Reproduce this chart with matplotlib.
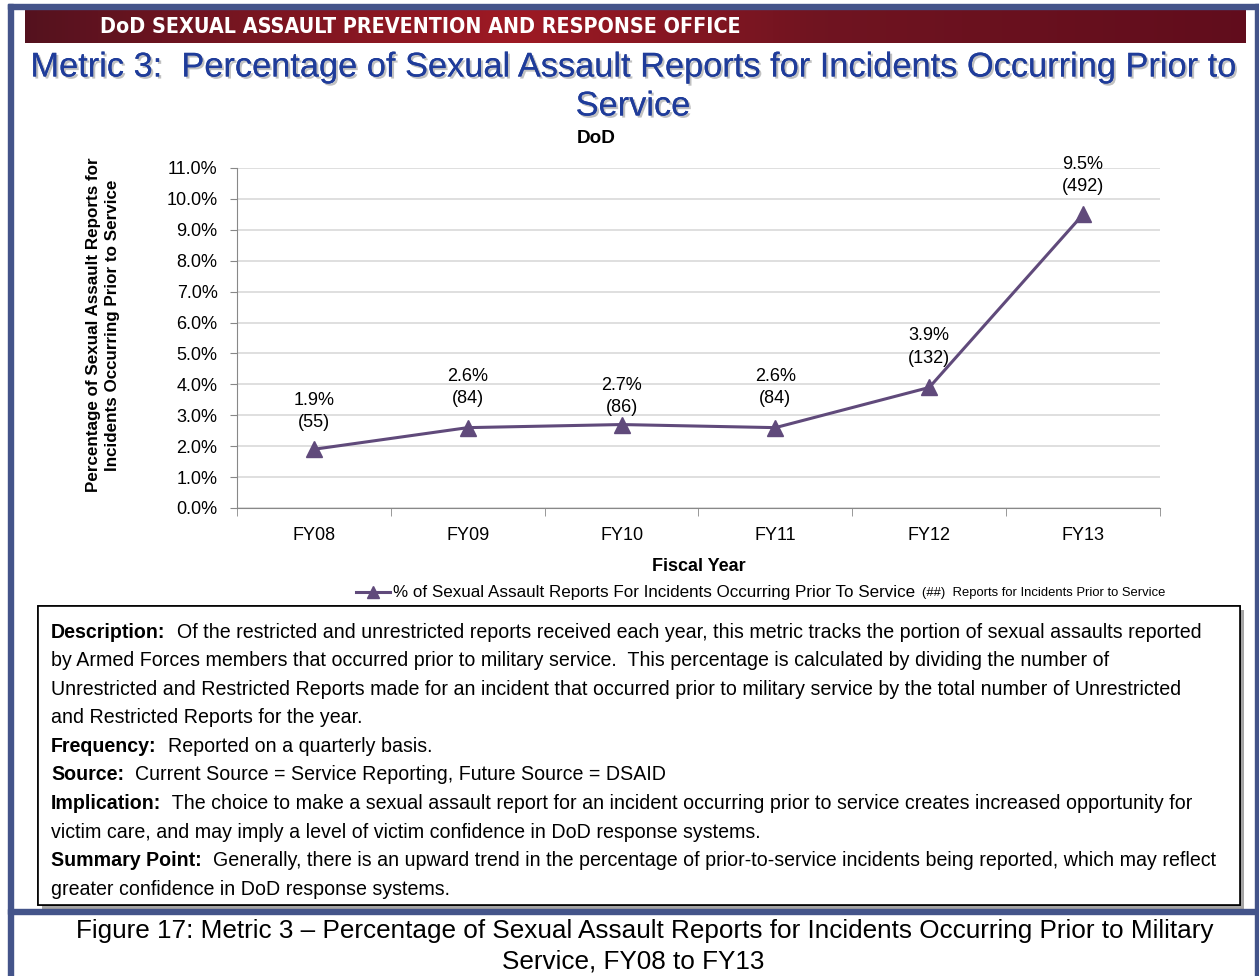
import matplotlib.pyplot as plt
import matplotlib.patheffects as pe
from matplotlib.patches import Rectangle
import numpy as np

W, H = 1259, 976

years = ['FY08', 'FY09', 'FY10', 'FY11', 'FY12', 'FY13']
pct = [1.9, 2.6, 2.7, 2.6, 3.9, 9.5]
counts = [55, 84, 86, 84, 132, 492]
label_dy = [13, 15, 6, 15, 15, 14]   # label lift above marker, points

desc_lines = [
    ('Description:', '  Of the restricted and unrestricted reports received each year, this metric tracks the portion of sexual assaults reported'),
    ('', 'by Armed Forces members that occurred prior to military service.  This percentage is calculated by dividing the number of'),
    ('', 'Unrestricted and Restricted Reports made for an incident that occurred prior to military service by the total number of Unrestricted'),
    ('', 'and Restricted Reports for the year.'),
    ('Frequency:', '  Reported on a quarterly basis.'),
    ('Source:', '  Current Source = Service Reporting, Future Source = DSAID'),
    ('Implication:', '  The choice to make a sexual assault report for an incident occurring prior to service creates increased opportunity for'),
    ('', 'victim care, and may imply a level of victim confidence in DoD response systems.'),
    ('Summary Point:', '  Generally, there is an upward trend in the percentage of prior-to-service incidents being reported, which may reflect'),
    ('', 'greater confidence in DoD response systems.'),
]

ARIAL = ['Liberation Sans', 'DejaVu Sans']
plt.rcParams['font.family'] = ARIAL

BORDER = '#44548a'
PURPLE = '#604a7b'


def fx(x):
    return x / W


def fy(y):
    return 1 - y / H


def pt(px):
    return px * 72 / 100


fig = plt.figure(figsize=(W / 100, H / 100), dpi=100)
fig.canvas.draw()
renderer = fig.canvas.get_renderer()


def fit_width(t, target):
    # scale font so the rendered text is target pixels wide
    w = t.get_window_extent(renderer).width
    t.set_fontsize(t.get_fontsize() * target / w)
    return t


# frame bands
for (x0, y0, x1, y1) in [(8, 4, 13, 976), (1255, 4, 1259, 976),
                         (8, 4, 1259, 9), (8, 909, 1259, 914)]:
    fig.patches.append(Rectangle((fx(x0), fy(y1)), fx(x1 - x0), (y1 - y0) / H,
                                 transform=fig.transFigure, color=BORDER, zorder=0))

# red banner with gradient
bax = fig.add_axes([fx(25), fy(43), fx(1246 - 25), 33 / H])
grad = np.linspace(0, 1, 400)
r = np.interp(grad, [0, 0.15, 0.4, 0.65, 1], [0.33, 0.45, 0.62, 0.44, 0.38])
g = np.interp(grad, [0, 0.4, 1], [0.07, 0.10, 0.05])
b = np.interp(grad, [0, 0.4, 1], [0.12, 0.14, 0.11])
bax.imshow(np.dstack([r, g, b]), aspect='auto', extent=[0, 1, 0, 1])
bax.set_axis_off()
t = fig.text(fx(100), fy(27), 'DoD SEXUAL ASSAULT PREVENTION AND RESPONSE OFFICE',
             color='white', fontsize=pt(25), fontweight='bold', va='center', ha='left',
             family='DejaVu Sans', fontstretch='condensed')
fit_width(t, 640)

# slide title
shadow = [pe.withSimplePatchShadow(offset=(1.5, -1.5), shadow_rgbFace='#999999', alpha=0.6),
          pe.Normal()]
t = fig.text(fx(634), fy(68), 'Metric 3:  Percentage of Sexual Assault Reports for Incidents Occurring Prior to',
             color='#1f3c9a', fontsize=pt(33), ha='center', va='center',
             path_effects=shadow)
fit_width(t, 1205)
fig.text(fx(633), fy(107), 'Service', color='#1f3c9a', fontsize=t.get_fontsize(),
         ha='center', va='center', path_effects=shadow)

# chart
ax = fig.add_axes([fx(237), fy(508), fx(1160 - 237), (508 - 168) / H])
x = np.arange(len(years))
line, = ax.plot(x, pct, color=PURPLE, lw=2.2, marker='^', ms=11,
                markerfacecolor=PURPLE, markeredgecolor=PURPLE, zorder=3)
for xi, p, c, dy in zip(x, pct, counts, label_dy):
    ax.annotate(f'{p:.1f}%\n({c})', (xi, p), xytext=(0, dy), textcoords='offset points',
                ha='center', va='bottom', fontsize=pt(18), linespacing=1.4)
ax.set_xlim(-0.5, len(years) - 0.5)
ax.set_ylim(0, 11)
ax.set_yticks(np.arange(0, 12, 1))
ax.set_yticklabels([f'{v:.1f}%' for v in range(12)], fontsize=pt(18))
ax.set_xticks(x)
ax.set_xticklabels(years, fontsize=pt(18))
ax.set_xticks(np.arange(-0.5, len(years), 1), minor=True)
ax.tick_params(axis='x', which='major', length=0, pad=14)
ax.tick_params(axis='x', which='minor', length=6, color='#888888')
ax.tick_params(axis='y', length=5, color='#888888', pad=9)
ax.grid(axis='y', color='#d9d9d9', lw=1.2)
ax.set_axisbelow(True)
for s in ['top', 'right']:
    ax.spines[s].set_visible(False)
for s in ['left', 'bottom']:
    ax.spines[s].set_color('#888888')
ax.set_xlabel('Fiscal Year', fontsize=pt(18), fontweight='bold', labelpad=10)
ax.set_ylabel('Percentage of Sexual Assault Reports for\nIncidents Occurring Prior to Service',
              fontsize=pt(17), fontweight='bold', linespacing=1.35)
ax.yaxis.set_label_coords(-0.127, 0.538)
ax.set_title('DoD', fontsize=pt(19), fontweight='bold', pad=18, x=0.389)

fig.legend([line], ['% of Sexual Assault Reports For Incidents Occurring Prior To Service'],
           loc='center left', bbox_to_anchor=(fx(356), fy(593)), frameon=False,
           fontsize=pt(17), handlelength=2.0, handletextpad=0.2, borderaxespad=0,
           borderpad=0, markerscale=0.85)
fig.text(fx(922), fy(593), '(##)  Reports for Incidents Prior to Service',
         fontsize=pt(13), ha='left', va='center')

# description box
fig.patches.append(Rectangle((fx(38), fy(905)), fx(1240 - 38), (905 - 606) / H,
                             transform=fig.transFigure, facecolor='white',
                             edgecolor='black', lw=1.2, zorder=1,
                             path_effects=[pe.withSimplePatchShadow(offset=(3, -3), alpha=0.5),
                                           pe.Normal()]))
y0 = 632
for i, (head, body) in enumerate(desc_lines):
    yy = fy(y0 + i * 28.6)
    xs = fx(51)
    if head:
        t = fig.text(xs, yy, head, fontsize=pt(19.6), fontweight='bold',
                     ha='left', va='center', zorder=2)
        bb = t.get_window_extent(renderer)
        xs = bb.x1 / W
    fig.text(xs, yy, body, fontsize=pt(19.6), ha='left', va='center', zorder=2)

# caption
t = fig.text(fx(645), fy(931), 'Figure 17: Metric 3 \u2013 Percentage of Sexual Assault Reports for Incidents Occurring Prior to Military',
             fontsize=pt(25), ha='center', va='center')
fit_width(t, 1140)
fig.text(fx(633), fy(961), 'Service, FY08 to FY13', fontsize=t.get_fontsize(),
         ha='center', va='center')

fig.savefig('out.png', dpi=100)
